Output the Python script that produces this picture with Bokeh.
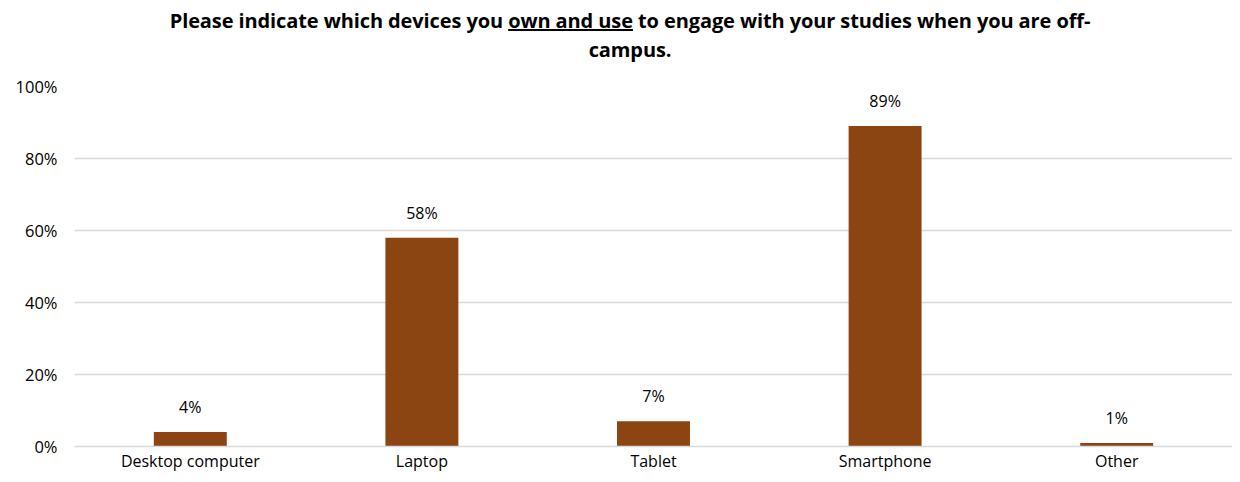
from bokeh.plotting import figure
from bokeh.models import ColumnDataSource, Div, NumeralTickFormatter, FixedTicker
from bokeh.layouts import column
from bokeh.embed import file_html
from bokeh.resources import INLINE
from bokeh.core.properties import value

categories = ["Desktop computer", "Laptop", "Tablet", "Smartphone", "Other"]
shares = [0.04, 0.58, 0.07, 0.89, 0.01]
labels = ["4%", "58%", "7%", "89%", "1%"]
y_ticks = [0, 0.2, 0.4, 0.6, 0.8, 1.0]

FONT = "Open Sans"

title = Div(
    text=("Please indicate which devices you <u>own and use</u> to engage with your studies "
          "when you are off-<br>campus."),
    width=1232, height=64, margin=(0, 0, 0, 0),
    styles={"font-family": FONT, "font-size": "20px", "font-weight": "bold",
            "text-align": "center", "line-height": "29px", "color": "#000000",
            "padding-top": "6px", "padding-left": "28px", "box-sizing": "border-box",
            "letter-spacing": "-0.1px", "overflow": "visible"},
)

src = ColumnDataSource(dict(cat=categories, val=shares, lab=labels))

p = figure(x_range=categories, y_range=(0, 1.0), width=1232, height=410,
           output_backend="svg", toolbar_location=None, margin=(0, 0, 0, 0),
           min_border_left=74, min_border_right=0, min_border_top=22, min_border_bottom=28)
p.x_range.range_padding = 0
p.outline_line_color = None
p.background_fill_color = "white"
p.border_fill_color = "white"

p.vbar(x="cat", top="val", width=0.315, source=src, fill_color="#8B4513",
       line_color=None)
p.text(x="cat", y="val", text="lab", source=src, text_align="center",
       text_baseline="bottom", y_offset=-14, text_font=value(FONT),
       text_font_size="16px", text_color="#000000")

p.yaxis.ticker = FixedTicker(ticks=y_ticks)
p.yaxis.formatter = NumeralTickFormatter(format="0%")
p.yaxis.axis_line_color = None
p.yaxis.major_tick_line_color = None
p.yaxis.minor_tick_line_color = None
p.yaxis.major_tick_out = 0
p.yaxis.major_tick_in = 0
p.yaxis.major_label_standoff = 17
p.yaxis.major_label_text_font = FONT
p.yaxis.major_label_text_font_size = "16.5px"
p.yaxis.major_label_text_color = "#000000"

p.xaxis.axis_line_color = "#d9d9d9"
p.xaxis.axis_line_width = 1.5
p.xaxis.major_tick_line_color = None
p.xaxis.minor_tick_line_color = None
p.xaxis.major_tick_out = 0
p.xaxis.major_tick_in = 0
p.xaxis.major_label_standoff = 3
p.xaxis.major_label_text_font = FONT
p.xaxis.major_label_text_font_size = "16px"
p.xaxis.major_label_text_color = "#000000"

p.xgrid.grid_line_color = None
p.ygrid.grid_line_color = "#d9d9d9"
p.ygrid.grid_line_width = 1.5

layout = column(title, p, spacing=0)
open("out.html", "w").write(file_html(layout, INLINE))
